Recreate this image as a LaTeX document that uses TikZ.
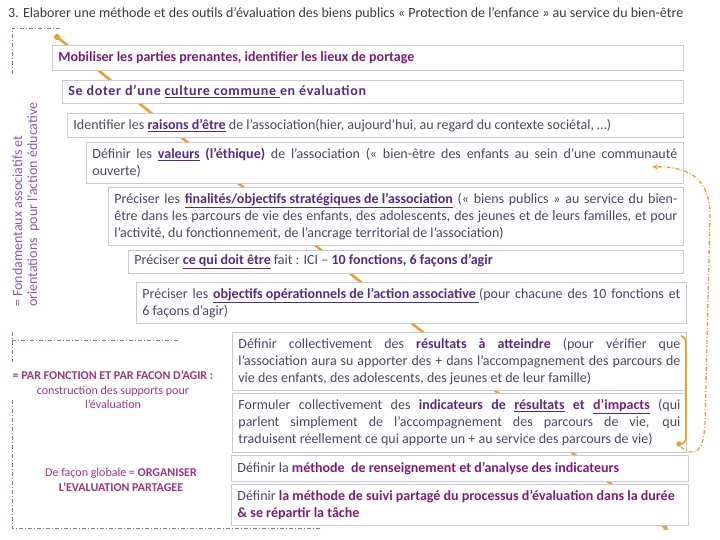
\documentclass[tikz,border=0pt]{standalone}
\usepackage{fontspec}
\setmainfont{Carlito}
\usetikzlibrary{arrows.meta}
\definecolor{titlec}{HTML}{3C3C3C}
\definecolor{boxc}{HTML}{C8C8D8}
\definecolor{bodyc}{HTML}{4E4660}
\definecolor{dpurp}{HTML}{5A2A82}
\definecolor{mag}{HTML}{7E1C7E}
\definecolor{lmag}{HTML}{A03384}
\definecolor{lav}{HTML}{8A5BB0}
\definecolor{dashc}{HTML}{9C6CA4}
\definecolor{orng}{HTML}{E8A033}
\newcommand\bul[1]{\textcolor{dpurp}{\textbf{\underline{#1}}}}
\newcommand\bpu[1]{\textcolor{dpurp}{\textbf{#1}}}
\begin{document}
\begin{tikzpicture}[x=1pt,y=-1pt,
  stage/.style={draw=boxc, line width=0.8pt, fill=white, anchor=north west,
    inner xsep=6pt, inner ysep=0pt, text=bodyc, align=justify,
    font=\fontsize{14}{17}\selectfont},
  bracketline/.style={draw=dashc, line width=0.8pt, dash pattern=on 4pt off 2pt on 1pt off 2pt},
  sidetext/.style={text=lmag, align=center, font=\fontsize{12}{14.5}\selectfont, inner sep=0pt}]
\useasboundingbox (0,0) rectangle (720,540);
\fill[white] (0,0) rectangle (720,540);

\node[anchor=west, text=titlec, font=\fontsize{14}{16}\selectfont, inner sep=0pt] (title) at (8,14)
 {3. Elaborer une méthode et des outils d’évaluation des biens publics « Protection de l’enfance » au service du bien-être};

% orange staircase line behind boxes
\coordinate (os) at (57,37);
\coordinate (oe) at (668,530);
\draw[orng, line width=2.6pt, -{Stealth[length=5pt,width=6pt]}] (os) -- (oe);
\fill[orng] (os) circle (3pt);

\node[stage, text width=619pt, minimum height=25pt] (b1) at (52,45)
 {\textcolor{mag}{\textbf{Mobiliser les parties prenantes, identifier les lieux de portage}}};
\node[stage, text width=609pt, minimum height=23pt] (b2) at (62,80)
 {\addfontfeature{LetterSpace=5}\textcolor{dpurp}{\textbf{Se doter d’une \underline{culture commune }en évaluation}}};
\node[stage, text width=604pt, minimum height=24pt] (b3) at (67,113)
 {Identifier les \bul{raisons d’être} de l’association(hier, aujourd’hui, au regard du contexte sociétal, …)};
\node[stage, text width=585pt, minimum height=41pt] (b4) at (86,142)
 {Définir les \bul{valeurs} \bpu{(l’éthique)} de l’association (« bien-être des enfants au sein d’une communauté\linebreak ouverte)};
\node[stage, text width=563pt, minimum height=58pt] (b5) at (108,187)
 {Préciser les \bul{finalités/objectifs stratégiques de l’association} (« biens publics » au service du bien-\linebreak être dans les parcours de vie des enfants, des adolescents, des jeunes et de leurs familles, et pour\linebreak l’activité, du fonctionnement, de l’ancrage territorial de l’association)};
\node[stage, text width=543pt, minimum height=23pt] (b6) at (128,250)
 {Préciser \bul{ce qui doit être} fait : ICI – \bpu{10 fonctions, 6 façons d’agir}};
\node[stage, text width=538pt, minimum height=41pt] (b7) at (136,282)
 {Préciser les \bul{objectifs opérationnels de l’action associative }(pour chacune des 10 fonctions et\linebreak 6 façons d’agir)};
\node[stage, text width=442pt, minimum height=58pt] (b8) at (232,332)
 {Définir collectivement des \bpu{résultats à atteindre} (pour vérifier que\linebreak l’association aura su apporter des + dans l’accompagnement des parcours de\linebreak vie des enfants, des adolescents, des jeunes et de leur famille)};
\node[stage, text width=442pt, minimum height=59pt] (b9) at (232,393)
 {Formuler collectivement des \bpu{indicateurs de \underline{résultats} et \textcolor{mag}{\underline{d’impacts}}} (qui\linebreak parlent simplement de l’accompagnement des parcours de vie, qui\linebreak traduisent réellement ce qui apporte un + au service des parcours de vie)};
\node[stage, text width=445pt, minimum height=26pt] (b10) at (231,455)
 {Définir la \textcolor{mag}{\textbf{méthode\ \ de renseignement et d’analyse des indicateurs}}};
\node[stage, text width=445pt, minimum height=41pt] (b11) at (231,484)
 {Définir \textcolor{mag}{\textbf{la méthode de suivi partagé du processus d’évaluation dans la durée\\ \& se répartir la tâche}}};

% brace on the right of b8-b9
\draw[orng, line width=1.6pt] (681,336) to[out=0,in=90] (686,342) -- (686,438) to[out=-90,in=0] (680,444);
\fill[orng] (679,444) circle (2.6pt);
% dashed return arrow
\draw[orng, line width=1.3pt, dash pattern=on 4pt off 2pt on 1pt off 2pt, -{Stealth[length=6pt,width=5pt]}]
 (681,447) .. controls (695,458) and (703,452) .. (705,425) -- (710,215) .. controls (710,180) and (690,166) .. (652,167);

% left dashed brackets
\draw[bracketline] (60,28) -- (12,28) -- (12,75);
\draw[bracketline] (12,332) -- (12,362);
\draw[bracketline] (12,340) -- (180,340);
\draw[bracketline] (12,400) -- (12,528) -- (322,528);

% left texts
\node[rotate=90, anchor=west, align=left, text=lav, font=\fontsize{14}{15}\selectfont, inner sep=0pt] (vt) at (26,307)
 {= Fondamentaux associatifs et\\orientations\ \ pour l’action éducative};
\node[sidetext] (t1) at (113,390)
 {\textbf{= PAR FONCTION ET PAR FACON D’AGIR :}\\construction des supports pour\\l’évaluation};
\node[sidetext] (t2) at (121,480)
 {De façon globale = \textbf{ORGANISER}\\\textbf{L’EVALUATION PARTAGEE}};
\end{tikzpicture}
\end{document}
